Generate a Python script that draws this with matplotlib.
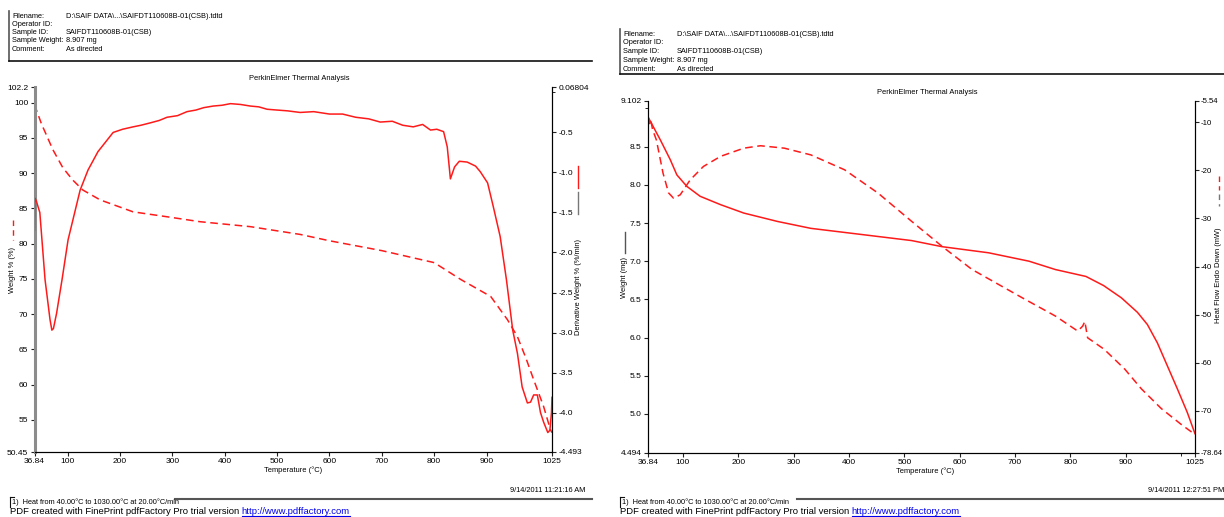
import matplotlib
matplotlib.use('Agg')
import matplotlib.pyplot as plt
from matplotlib.lines import Line2D

plt.rcParams['font.family'] = ['Liberation Sans', 'DejaVu Sans']

# ---- TGA run: weight % (dashed, left axis) and derivative weight (solid, right axis)
tga_temp = [36.84, 50, 72, 91, 110, 129, 162, 225, 290, 353, 449, 544, 600, 700,
            800, 851, 908, 940, 959, 975, 990, 1009, 1022, 1025]
tga_weight = [99.7, 97.0, 93.3, 90.75, 89.0, 87.6, 86.2, 84.5, 83.8, 83.1, 82.4, 81.3,
              80.4, 79.0, 77.3, 74.9, 72.5, 69.2, 66.8, 63.8, 60.7, 56.9, 53.6, 53.2]

dtg_temp = [36.84, 37.5, 40, 47, 57, 66.5, 70, 73, 79, 89.4, 101, 124, 139, 158, 187,
            205, 225, 240, 258, 275, 290, 310, 328, 345, 360, 378, 395, 411, 430, 449,
            465, 481, 500, 520, 544, 570, 600, 625, 650, 675, 697, 720, 740, 760, 778,
            793, 805, 818, 825, 831, 839, 848, 863, 879, 888, 902, 913, 926, 938, 950,
            959, 968, 978, 984, 990, 997, 1003, 1009, 1017, 1021, 1024, 1025]
dtg_value = [-1.72, -1.32, -1.35, -1.5, -2.34, -2.84, -2.97, -2.95, -2.76, -2.34, -1.84,
             -1.22, -0.97, -0.74, -0.50, -0.46, -0.43, -0.41, -0.38, -0.35, -0.31, -0.29,
             -0.24, -0.22, -0.19, -0.17, -0.16, -0.14, -0.15, -0.17, -0.18, -0.21, -0.22,
             -0.23, -0.25, -0.24, -0.27, -0.27, -0.31, -0.33, -0.37, -0.36, -0.41, -0.43,
             -0.40, -0.47, -0.46, -0.49, -0.68, -1.08, -0.93, -0.86, -0.87, -0.92, -0.99,
             -1.13, -1.43, -1.80, -2.34, -2.97, -3.26, -3.68, -3.88, -3.87, -3.78, -3.78,
             -4.0, -4.12, -4.25, -4.22, -4.0, -3.81]

# ---- DSC run: weight in mg (solid, left axis) and heat flow (dashed, right axis)
dsc_temp_w = [36.84, 59, 77, 89, 107, 131, 168, 210, 271, 331, 422, 513, 568, 652, 725,
              773, 828, 860, 892, 921, 939, 957, 975, 993, 1011, 1025]
dsc_weight = [8.89, 8.59, 8.33, 8.13, 7.98, 7.85, 7.74, 7.63, 7.52, 7.43, 7.35, 7.27, 7.19,
              7.11, 7.0, 6.89, 6.80, 6.68, 6.52, 6.33, 6.17, 5.93, 5.63, 5.33, 5.02, 4.74]

dsc_temp_h = [36.84, 40, 42, 45, 52, 64, 74, 83, 95, 113, 137, 168, 210, 240, 283, 331,
              392, 452, 513, 531, 568, 622, 713, 773, 813, 822, 826, 831, 861, 898, 928,
              964, 1000, 1025]
dsc_heat = [-8.8, -10.3, -9.6, -11.5, -13.7, -20.6, -24.7, -25.8, -25.1, -22.0, -19.2,
            -17.1, -15.4, -14.9, -15.4, -16.8, -19.9, -24.7, -30.6, -32.3, -35.8, -40.6,
            -46.5, -50.3, -53.4, -52.4, -51.4, -54.8, -57.2, -61.3, -65.4, -69.5, -72.8,
            -74.9]

temp_ticks = [36.84, 100, 200, 300, 400, 500, 600, 700, 800, 900, 1025]
temp_labels = ['36.84', '100', '200', '300', '400', '500', '600', '700', '800', '900', '1025']

W, H = 1224, 517
fig = plt.figure(figsize=(W / 100, H / 100), dpi=100)
RED = '#ff1a1a'
FS = 6.0
LBL = 5.4


def fx(x):
    return x / W


def fy(y):
    return 1 - y / H


def add_axes_px(x0, y0, x1, y1):
    return fig.add_axes([fx(x0), fy(y1), fx(x1) - fx(x0), (y1 - y0) / H])


def style_axis(ax, twin):
    ax.spines['top'].set_visible(False)
    twin.spines['top'].set_visible(False)
    for a in (ax, twin):
        a.tick_params(labelsize=FS, length=3, width=0.8, pad=1.5, color='#222222')
    ax.set_xticks(temp_ticks)
    ax.set_xticklabels(temp_labels)
    ax.set_xlim(36.84, 1025)


def header(x, y, step, x_line_end, line_y):
    rows = [('Filename:', 'D:\\SAIF DATA\\...\\SAIFDT110608B-01(CSB).tdtd'),
            ('Operator ID:', ''),
            ('Sample ID:', 'SAIFDT110608B-01(CSB)'),
            ('Sample Weight:', '8.907 mg'),
            ('Comment:', 'As directed')]
    for i, (k, v) in enumerate(rows):
        fig.text(fx(x), fy(y + i * step), k, fontsize=5.3, va='center', ha='left')
        fig.text(fx(x + 54), fy(y + i * step), v, fontsize=5.3, va='center', ha='left')
    fig.add_artist(Line2D([fx(x - 3), fx(x - 3)], [fy(y - 5), fy(line_y)], color='#555555', lw=1.2))
    fig.add_artist(Line2D([fx(x - 3), fx(x_line_end)], [fy(line_y), fy(line_y)], color='#111111', lw=1.2))


def footer(x, stamp, stamp_x, line_x0, line_x1):
    fig.text(fx(x + 2), fy(502), '1)  Heat from 40.00\u00b0C to 1030.00\u00b0C at 20.00\u00b0C/min',
             fontsize=5.3, va='center', ha='left')
    fig.add_artist(Line2D([fx(x), fx(x)], [fy(497), fy(507)], color='#111111', lw=0.8))
    fig.add_artist(Line2D([fx(x), fx(x + 4)], [fy(497), fy(497)], color='#111111', lw=0.8))
    fig.add_artist(Line2D([fx(line_x0), fx(line_x1)], [fy(498.5), fy(498.5)], color='#555555', lw=1.5))
    fig.text(fx(stamp_x), fy(490.5), stamp, fontsize=5.3, va='center', ha='right')
    t = fig.text(fx(x), fy(511.5), 'PDF created with FinePrint pdfFactory Pro trial version ',
                 fontsize=6.8, va='center', ha='left')
    r = fig.canvas.get_renderer()
    bb = t.get_window_extent(renderer=r)
    lt = fig.text(bb.x1 / W, fy(511.5), 'http://www.pdffactory.com', fontsize=6.8, va='center',
                  ha='left', color='#0000ee')
    lb = lt.get_window_extent(renderer=r)
    fig.add_artist(Line2D([lb.x0 / W, lb.x1 / W], [fy(516.3), fy(516.3)], color='#0000ee', lw=0.8))


def legend_marks(x, y0, segments):
    # short vertical line samples next to the rotated axis labels
    y = y0
    for color, ls, length in segments:
        fig.add_artist(Line2D([fx(x), fx(x)], [fy(y), fy(y + length)], color=color, lw=1.0,
                              linestyle=ls))
        y += length + 4


# ================= left panel: TGA =================
axL = add_axes_px(34.5, 87, 552, 452)
axL2 = axL.twinx()
style_axis(axL, axL2)
axL.plot(tga_temp, tga_weight, color=RED, lw=1.1, linestyle=(0, (5, 3)))
axL2.plot(dtg_temp, dtg_value, color=RED, lw=1.1)
axL.set_ylim(50.45, 102.2)
axL.set_yticks([50.45, 55, 60, 65, 70, 75, 80, 85, 90, 95, 100, 102.2])
axL.set_yticklabels(['50.45', '55', '60', '65', '70', '75', '80', '85', '90', '95', '100', '102.2'])
axL2.set_ylim(-4.493, 0.06804)
axL2.set_yticks([-4.493, -4.0, -3.5, -3.0, -2.5, -2.0, -1.5, -1.0, -0.5, 0.06804])
axL2.set_yticklabels(['-4.493', '-4.0', '-3.5', '-3.0', '-2.5', '-2.0', '-1.5', '-1.0', '-0.5', '0.06804'])
axL2.set_yticks([0.0], minor=True)
axL2.tick_params(which='minor', length=2.5)
axL.spines['left'].set_color('#8c8c8c')
axL.spines['left'].set_linewidth(2.2)
axL2.spines['left'].set_visible(False)

fig.text(fx(299), fy(79), 'PerkinElmer Thermal Analysis', fontsize=LBL, ha='center', va='center')
fig.text(fx(293), fy(470.5), 'Temperature (\u00b0C)', fontsize=LBL, ha='center', va='center')
fig.text(fx(13), fy(270), 'Weight % (%)', fontsize=LBL, rotation=90, ha='center', va='center')
legend_marks(13, 220, [(RED, (0, (4, 3)), 20)])
fig.text(fx(579), fy(287), 'Derivative Weight % (%/min)', fontsize=LBL, rotation=90,
         ha='center', va='center')
legend_marks(578, 166, [(RED, '-', 22), ('#777777', '-', 22)])

header(12, 16, 8.3, 592, 60.5)
footer(10, '9/14/2011 11:21:16 AM', 585, 175, 592)

# ================= right panel: DSC =================
axR = add_axes_px(648, 100.7, 1195, 452.5)
axR2 = axR.twinx()
style_axis(axR, axR2)
axR.plot(dsc_temp_w, dsc_weight, color=RED, lw=1.1)
axR2.plot(dsc_temp_h, dsc_heat, color=RED, lw=1.1, linestyle=(0, (5, 3)))
axR.set_ylim(4.494, 9.102)
axR.set_yticks([4.494, 5.0, 5.5, 6.0, 6.5, 7.0, 7.5, 8.0, 8.5, 9.102])
axR.set_yticklabels(['4.494', '5.0', '5.5', '6.0', '6.5', '7.0', '7.5', '8.0', '8.5', '9.102'])
axR.set_yticks([9.0], minor=True)
axR.set_xticks([1000], minor=True)
axR.tick_params(which='minor', length=2.5)
axR2.set_ylim(-78.64, -5.54)
axR2.set_yticks([-78.64, -70, -60, -50, -40, -30, -20, -10, -5.54])
axR2.set_yticklabels(['-78.64', '-70', '-60', '-50', '-40', '-30', '-20', '-10', '-5.54'])
axR2.tick_params(labelsize=5.6, pad=1)

fig.text(fx(927), fy(92), 'PerkinElmer Thermal Analysis', fontsize=LBL, ha='center', va='center')
fig.text(fx(925), fy(471), 'Temperature (\u00b0C)', fontsize=LBL, ha='center', va='center')
fig.text(fx(625), fy(277), 'Weight (mg)', fontsize=LBL, rotation=90, ha='center', va='center')
legend_marks(625, 232, [('#555555', '-', 21)])
fig.text(fx(1219), fy(275), 'Heat Flow Endo Down (mW)', fontsize=LBL, rotation=90,
         ha='center', va='center')
legend_marks(1219, 176, [(RED, (0, (4, 3)), 14), ('#777777', (0, (4, 3)), 12)])

header(623, 34, 8.8, 1224, 74)
footer(620, '9/14/2011 12:27:51 PM', 1224, 797, 1224)

fig.savefig('out.png', dpi=100)
